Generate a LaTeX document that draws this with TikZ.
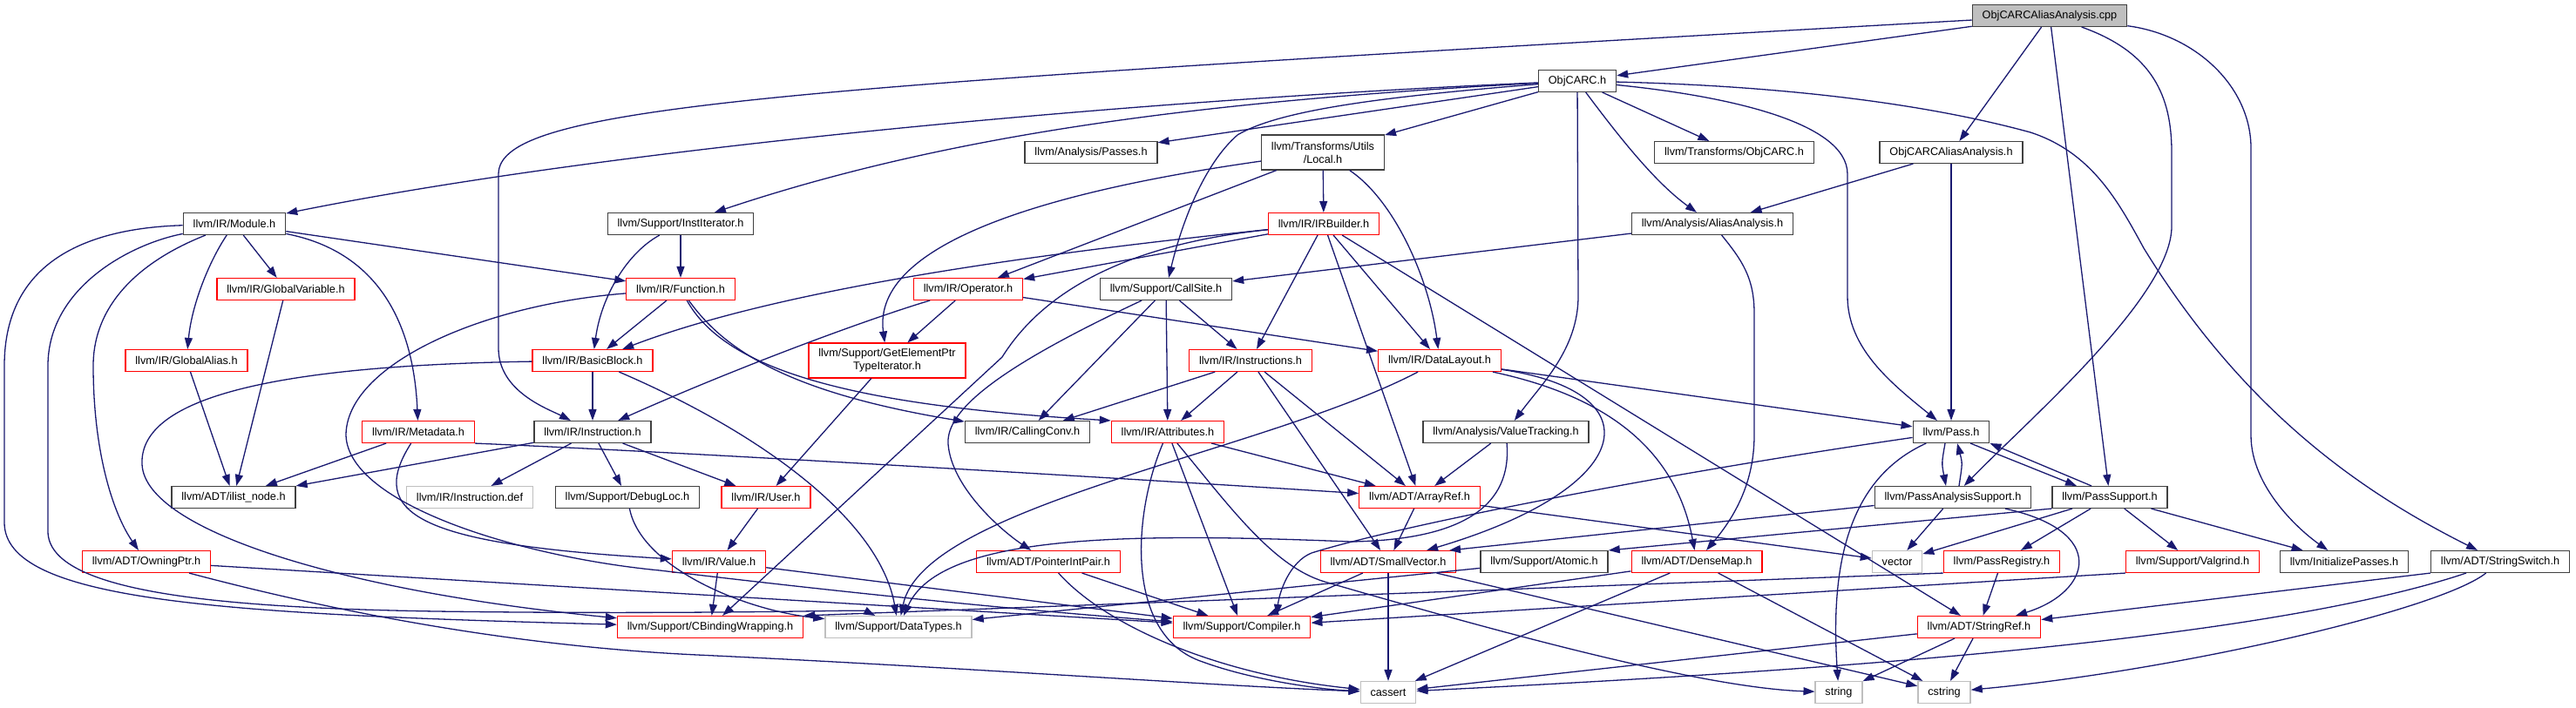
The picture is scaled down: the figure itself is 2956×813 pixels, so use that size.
\documentclass[tikz,border=0pt]{standalone}
\usepackage{fontspec}
\setmainfont{Liberation Sans}
\usetikzlibrary{arrows.meta}
\definecolor{dEdge}{RGB}{25,25,112}
\definecolor{dFrame}{RGB}{64,64,64}
\definecolor{dRed}{RGB}{255,0,0}
\definecolor{dGray}{RGB}{191,191,191}

\begin{document}
\begin{tikzpicture}[x=1pt, y=-1pt,
  hdr/.style={draw=dFrame, line width=1.3pt, rectangle, inner xsep=11.35pt, inner ysep=0pt,
    minimum height=24.8pt, font=\fontsize{12.7}{15}\selectfont, align=center},
  hdrred/.style={hdr, draw=dRed},
  hdrgray/.style={hdr, draw=dGray},
  hdrtwo/.style={minimum height=39.8pt},
  dep/.style={draw=dEdge, line width=1.3pt, -{Triangle[length=13pt,width=9pt]}}]
  \useasboundingbox (0,0) rectangle (2956,813);

  \node[hdr, fill=dGray] (cpp) at (2352,18) {ObjCARCAliasAnalysis.cpp};
  \node[hdr] (objcarc) at (1810,93) {ObjCARC.h};
  \node[hdr] (passes) at (1252,175) {llvm/Analysis/Passes.h};
  \node[hdr, hdrtwo] (local) at (1518,175) {llvm/Transforms/Utils\\/Local.h};
  \node[hdr] (tobjcarc) at (1990,175) {llvm/Transforms/ObjCARC.h};
  \node[hdr] (objaah) at (2239,175) {ObjCARCAliasAnalysis.h};
  \node[hdr] (module) at (269,257) {llvm/IR/Module.h};
  \node[hdr] (institer) at (781,257) {llvm/Support/InstIterator.h};
  \node[hdrred] (irbuilder) at (1519,257) {llvm/IR/IRBuilder.h};
  \node[hdr] (aa) at (1965,257) {llvm/Analysis/AliasAnalysis.h};
  \node[hdrred] (globalvar) at (328,332) {llvm/IR/GlobalVariable.h};
  \node[hdrred] (function) at (781,332) {llvm/IR/Function.h};
  \node[hdrred] (operator) at (1111,332) {llvm/IR/Operator.h};
  \node[hdr] (callsite) at (1338,332) {llvm/Support/CallSite.h};
  \node[hdrred] (globalalias) at (214,414) {llvm/IR/GlobalAlias.h};
  \node[hdrred] (basicblock) at (680,414) {llvm/IR/BasicBlock.h};
  \node[hdrred, hdrtwo] (gep) at (1018,414) {llvm/Support/GetElementPtr\\TypeIterator.h};
  \node[hdrred] (instructions) at (1435,414) {llvm/IR/Instructions.h};
  \node[hdrred] (datalayout) at (1652,414) {llvm/IR/DataLayout.h};
  \node[hdrred] (metadata) at (480,496) {llvm/IR/Metadata.h};
  \node[hdr] (instruction) at (680,496) {llvm/IR/Instruction.h};
  \node[hdr] (callingconv) at (1179,496) {llvm/IR/CallingConv.h};
  \node[hdrred] (attributes) at (1340,496) {llvm/IR/Attributes.h};
  \node[hdr] (valuetracking) at (1728,496) {llvm/Analysis/ValueTracking.h};
  \node[hdr] (pass) at (2239,496) {llvm/Pass.h};
  \node[hdr] (ilistnode) at (268,571) {llvm/ADT/ilist\_node.h};
  \node[hdrgray] (instdef) at (539,571) {llvm/IR/Instruction.def};
  \node[hdr] (debugloc) at (720,571) {llvm/Support/DebugLoc.h};
  \node[hdrred] (user) at (879,571) {llvm/IR/User.h};
  \node[hdrred] (arrayref) at (1629,571) {llvm/ADT/ArrayRef.h};
  \node[hdr] (passanalysis) at (2241,571) {llvm/PassAnalysisSupport.h};
  \node[hdr] (passsupport) at (2421,571) {llvm/PassSupport.h};
  \node[hdrred] (owningptr) at (168,645) {llvm/ADT/OwningPtr.h};
  \node[hdrred] (value) at (825,645) {llvm/IR/Value.h};
  \node[hdrred] (pointerintpair) at (1203,645) {llvm/ADT/PointerIntPair.h};
  \node[hdrred] (smallvector) at (1593,645) {llvm/ADT/SmallVector.h};
  \node[hdr] (atomic) at (1772,645) {llvm/Support/Atomic.h};
  \node[hdrred] (densemap) at (1947,645) {llvm/ADT/DenseMap.h};
  \node[hdrgray] (vector) at (2177,645) {vector};
  \node[hdrred] (passregistry) at (2297,645) {llvm/PassRegistry.h};
  \node[hdrred] (valgrind) at (2516,645) {llvm/Support/Valgrind.h};
  \node[hdr] (initpasses) at (2690,645) {llvm/InitializePasses.h};
  \node[hdr] (stringswitch) at (2869,645) {llvm/ADT/StringSwitch.h};
  \node[hdrred] (cbinding) at (815,720) {llvm/Support/CBindingWrapping.h};
  \node[hdrgray] (datatypes) at (1031,720) {llvm/Support/DataTypes.h};
  \node[hdrred] (compiler) at (1425,720) {llvm/Support/Compiler.h};
  \node[hdrred] (stringref) at (2271,720) {llvm/ADT/StringRef.h};
  \node[hdrgray] (cassert) at (1593,795) {cassert};
  \node[hdrgray] (string) at (2110,795) {string};
  \node[hdrgray] (cstring) at (2231,795) {cstring};

  \draw[dep] (cpp) -- (objcarc);
  \draw[dep] (cpp) .. controls (900,100) and (572,120) .. (572,200) -- (572,400) .. controls (572,450) and (630,470) .. (instruction);
  \draw[dep] (cpp) -- (objaah);
  \draw[dep] (cpp) -- (passsupport);
  \draw[dep] (cpp) .. controls (2470,60) and (2492,110) .. (2492,175) -- (2492,260) .. controls (2492,340) and (2330,480) .. (passanalysis);
  \draw[dep] (cpp) .. controls (2520,40) and (2583,100) .. (2583,170) -- (2583,500) .. controls (2583,560) and (2640,610) .. (initpasses);

  \draw[dep] (objcarc) .. controls (1300,115) and (700,170) .. (module);
  \draw[dep] (objcarc) .. controls (1400,115) and (1100,150) .. (institer);
  \draw[dep] (objcarc) -- (passes);
  \draw[dep] (objcarc) .. controls (1600,110) and (1470,125) .. (1420,155) .. controls (1380,190) and (1355,260) .. (callsite);
  \draw[dep] (objcarc) -- (local);
  \draw[dep] (objcarc) -- (1811,340) .. controls (1811,400) and (1770,440) .. (valuetracking);
  \draw[dep] (objcarc) .. controls (1860,160) and (1900,210) .. (aa);
  \draw[dep] (objcarc) -- (tobjcarc);
  \draw[dep] (objcarc) .. controls (2100,100) and (2250,130) .. (2330,152) .. controls (2400,175) and (2430,230) .. (2460,285) .. controls (2580,480) and (2720,570) .. (stringswitch);
  \draw[dep] (objcarc) .. controls (1980,110) and (2120,140) .. (2120,200) -- (2120,340) .. controls (2120,400) and (2170,440) .. (pass);

  \draw[dep] (objaah) -- (aa);
  \draw[dep] (objaah) -- (pass);

  \draw[dep] (local) -- (irbuilder);
  \draw[dep] (local) -- (operator);
  \draw[dep] (local) .. controls (1200,220) and (1000,280) .. (gep);
  \draw[dep] (local) .. controls (1600,230) and (1640,320) .. (datalayout);

  \draw[dep] (irbuilder) -- (operator);
  \draw[dep] (irbuilder) .. controls (1200,290) and (900,330) .. (basicblock);
  \draw[dep] (irbuilder) .. controls (1300,280) and (1200,330) .. (1150,410) -- (cbinding);
  \draw[dep] (irbuilder) -- (instructions);
  \draw[dep] (irbuilder) -- (arrayref);
  \draw[dep] (irbuilder) -- (datalayout);
  \draw[dep] (irbuilder) -- (stringref);

  \draw[dep] (aa) -- (callsite);
  \draw[dep] (aa) .. controls (2000,300) and (2013,320) .. (2013,360) -- (2013,500) .. controls (2013,560) and (1985,600) .. (densemap);

  \draw[dep] (callsite) -- (instructions);
  \draw[dep] (callsite) -- (attributes);
  \draw[dep] (callsite) -- (callingconv);
  \draw[dep] (callsite) .. controls (1150,420) and (1085,470) .. (1088,510) .. controls (1092,560) and (1150,610) .. (pointerintpair);

  \draw[dep] (operator) -- (gep);
  \draw[dep] (operator) .. controls (1000,365) and (850,420) .. (instruction);
  \draw[dep] (operator) -- (datalayout);

  \draw[dep] (module) -- (function);
  \draw[dep] (module) -- (globalvar);
  \draw[dep] (module) .. controls (240,300) and (220,350) .. (globalalias);
  \draw[dep] (module) .. controls (440,290) and (475,380) .. (metadata);
  \draw[dep] (module) .. controls (160,300) and (107,350) .. (107,420) .. controls (107,520) and (130,590) .. (owningptr);
  \draw[dep] (module) .. controls (100,262) and (5,300) .. (5,420) -- (5,600) .. controls (5,690) and (250,705) .. (cbinding);
  \draw[dep] (module) .. controls (150,280) and (55,330) .. (55,420) -- (55,610) .. controls (55,680) and (250,698) .. (500,702) .. controls (800,706) and (990,700) .. (datatypes);

  \draw[dep] (institer) -- (function);
  \draw[dep] (institer) .. controls (720,290) and (690,340) .. (basicblock);
  \draw[dep] (function) -- (basicblock);
  \draw[dep] (function) .. controls (830,400) and (900,450) .. (callingconv);
  \draw[dep] (function) .. controls (830,420) and (960,465) .. (attributes.north west);
  \draw[dep] (function) .. controls (550,350) and (397,420) .. (397,500) .. controls (400,580) and (600,640) .. (757,655) .. controls (900,672) and (1100,695) .. (compiler);

  \draw[dep] (globalvar) -- (ilistnode);
  \draw[dep] (globalalias) -- (ilistnode);
  \draw[dep] (basicblock) -- (instruction);
  \draw[dep] (basicblock) .. controls (300,420) and (160,460) .. (163,533) .. controls (166,610) and (400,680) .. (cbinding);
  \draw[dep] (basicblock) .. controls (880,500) and (1010,600) .. (datatypes);
  \draw[dep] (gep) -- (user);

  \draw[dep] (instruction) -- (ilistnode);
  \draw[dep] (instruction) -- (instdef);
  \draw[dep] (instruction) -- (debugloc);
  \draw[dep] (instruction) -- (user);
  \draw[dep] (user) -- (value);
  \draw[dep] (value) -- (cbinding);
  \draw[dep] (value) -- (compiler);
  \draw[dep] (debugloc) .. controls (735,650) and (850,700) .. (datatypes);

  \draw[dep] (metadata) -- (ilistnode);
  \draw[dep] (metadata) .. controls (420,590) and (480,625) .. (value);
  \draw[dep] (metadata.south east) .. controls (800,520) and (1300,550) .. (arrayref);

  \draw[dep] (owningptr) -- (compiler);
  \draw[dep] (owningptr) .. controls (450,720) and (650,745) .. (800,752) .. controls (1100,766) and (1400,788) .. (cassert);
  \draw[dep] (pointerintpair) -- (compiler);
  \draw[dep] (pointerintpair) .. controls (1270,720) and (1400,775) .. (cassert);

  \draw[dep] (attributes) -- (arrayref);
  \draw[dep] (attributes) -- (compiler);
  \draw[dep] (attributes) .. controls (1300,590) and (1290,730) .. (1380,760) .. controls (1440,782) and (1520,792) .. (cassert);
  \draw[dep] (attributes) .. controls (1410,580) and (1460,650) .. (1520,668) .. controls (1700,720) and (1950,790) .. (string);

  \draw[dep] (instructions) -- (callingconv);
  \draw[dep] (instructions) -- (attributes);
  \draw[dep] (instructions) -- (arrayref);
  \draw[dep] (instructions) -- (smallvector);

  \draw[dep] (datalayout) .. controls (1450,520) and (1060,580) .. (datatypes);
  \draw[dep] (datalayout) -- (pass);
  \draw[dep] (datalayout) .. controls (1900,450) and (1880,560) .. (smallvector);
  \draw[dep] (datalayout) .. controls (1820,450) and (1920,500) .. (densemap);

  \draw[dep] (valuetracking) -- (arrayref);
  \draw[dep] (valuetracking) .. controls (1735,580) and (1680,620) .. (1550,622) .. controls (1300,612) and (1080,612) .. (datatypes);

  \draw[dep] (arrayref) -- (smallvector);
  \draw[dep] (arrayref) -- (vector);
  \draw[dep] (smallvector) -- (cassert);
  \draw[dep] (smallvector) -- (compiler);
  \draw[dep] (smallvector) -- (cstring);
  \draw[dep] (atomic) -- (datatypes);
  \draw[dep] (densemap) -- (compiler);
  \draw[dep] (densemap) -- (cassert);
  \draw[dep] (densemap) -- (cstring);

  \draw[dep] ([xshift=-7pt]pass.south) .. controls (2228,532) .. ([xshift=-8pt]passanalysis.north);
  \draw[dep] ([xshift=7pt]passanalysis.north) .. controls (2252,532) .. ([xshift=7pt]pass.south);
  \draw[dep] ([xshift=22pt]pass.south) -- ([xshift=-38pt]passsupport.north);
  \draw[dep] ([xshift=-21pt]passsupport.north) -- (pass.south east);
  \draw[dep] (pass) .. controls (2120,550) and (2100,650) .. (string);
  \draw[dep] (pass) .. controls (1900,545) and (1600,605) .. (1505,635) .. controls (1480,645) and (1468,680) .. ([xshift=40pt]compiler.north);

  \draw[dep] (passanalysis) -- ([xshift=70pt]smallvector.north);
  \draw[dep] (passanalysis) -- (vector);
  \draw[dep] (passanalysis) .. controls (2420,610) and (2400,680) .. (stringref);

  \draw[dep] (passsupport) -- (vector);
  \draw[dep] (passsupport) -- (passregistry);
  \draw[dep] (passsupport) -- (valgrind);
  \draw[dep] (passsupport) -- (initpasses);
  \draw[dep] (passsupport.south west) -- (atomic.north east);

  \draw[dep] (passregistry) -- (stringref);
  \draw[dep] (passregistry.south west) -- (cbinding.north east);
  \draw[dep] (valgrind.south west) -- (compiler);

  \draw[dep] (stringref) -- (string);
  \draw[dep] (stringref) -- (cstring);
  \draw[dep] (stringref) -- (cassert);
  \draw[dep] (stringswitch.south west) -- (stringref);
  \draw[dep] (stringswitch) .. controls (2600,735) and (2100,770) .. (cassert);
  \draw[dep] (stringswitch) .. controls (2800,700) and (2500,770) .. (cstring);
\end{tikzpicture}
\end{document}
